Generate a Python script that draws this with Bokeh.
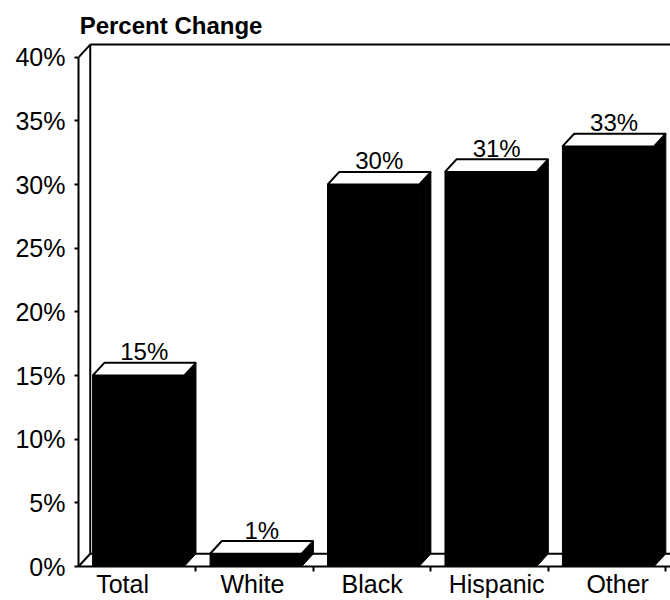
from bokeh.plotting import figure
from bokeh.models import FixedTicker
from bokeh.core.properties import value
from bokeh.embed import file_html
from bokeh.resources import INLINE

# ---- data ----
categories = ["Total", "White", "Black", "Hispanic", "Other"]
pct_change = [15, 1, 30, 31, 33]
y_ticks = [0, 5, 10, 15, 20, 25, 30, 35, 40]
y_tick_labels = ["0%", "5%", "10%", "15%", "20%", "25%", "30%", "35%", "40%"]
title_text = "Percent Change"

# ---- layout constants (not data) ----
DX, DY = 0.10, 1.0          # 3-D depth offset (category units, percent)
FRONT_L, FRONT_R = 0.12, 0.90
X_END = 5.04
Y_TOP = 44.15
WALL_TOP = 40
label_nudge = [-0.125, -0.02, 0.0, 0.06, 0.09]
FONT = "Liberation Sans"

p = figure(width=670, height=600, x_range=(0, X_END), y_range=(0, Y_TOP),
           output_backend="svg", toolbar_location=None,
           min_border_left=78, min_border_right=0, min_border_top=4,
           min_border_bottom=33)
p.grid.visible = False
p.outline_line_color = None
p.background_fill_color = "white"
p.border_fill_color = "white"

# floor + walls
p.patch([0, DX, X_END, X_END], [0, DY, DY, 0], fill_color="white", line_color=None)
p.segment(x0=[0, DX, DX, 0, DX],
          y0=[0, DY, DY, WALL_TOP, WALL_TOP + DY],
          x1=[DX, X_END, DX, DX, X_END],
          y1=[DY, DY, WALL_TOP + DY, WALL_TOP + DY, WALL_TOP + DY],
          line_color="black", line_width=2)

idx = list(range(len(categories)))
# front faces
p.quad(left=[i + FRONT_L for i in idx], right=[i + FRONT_R for i in idx],
       bottom=0, top=pct_change, fill_color="black", line_color="black", line_width=1)
# side faces
side_xs = [[i + FRONT_R, i + FRONT_R + DX, i + FRONT_R + DX, i + FRONT_R] for i in idx]
side_ys = [[0, DY, v + DY, v] for v in pct_change]
p.patches(side_xs, side_ys, fill_color="black", line_color="black", line_width=1)
# top faces
top_xs = [[i + FRONT_L, i + FRONT_L + DX, i + FRONT_R + DX, i + FRONT_R] for i in idx]
top_ys = [[v, v + DY, v + DY, v] for v in pct_change]
p.patches(top_xs, top_ys, fill_color="white", line_color="black", line_width=2)

# value labels
p.text(x=[i + (FRONT_L + FRONT_R + DX) / 2 for i in idx],
       y=[v + DY - 0.2 for v in pct_change],
       text=[f"{v}%" for v in pct_change],
       text_align="center", text_baseline="bottom",
       text_font=value(FONT), text_font_size="24px", text_color="black")

# title
p.text(x=[0.01], y=[41.45], text=[title_text], text_align="left",
       text_baseline="bottom", text_font=value(FONT), text_font_size="24px",
       text_font_style="bold", text_color="black")

# y axis
p.yaxis.ticker = FixedTicker(ticks=y_ticks)
p.yaxis.major_label_overrides = dict(zip(y_ticks, y_tick_labels))
p.yaxis.bounds = (0, WALL_TOP)
p.yaxis.axis_line_width = 2
p.yaxis.axis_line_color = "black"
p.yaxis.major_tick_out = 4
p.yaxis.major_tick_in = 0
p.yaxis.major_tick_line_width = 2
p.yaxis.minor_tick_out = 0
p.yaxis.minor_tick_in = 0
p.yaxis.major_label_standoff = 9
p.yaxis.major_label_text_font = FONT
p.yaxis.major_label_text_font_size = "25px"
p.yaxis.major_label_text_color = "black"

# x axis
x_tick_pos = [i + 0.5 + n for i, n in zip(idx, label_nudge)]
p.xaxis.ticker = FixedTicker(ticks=x_tick_pos, minor_ticks=[1, 2, 3, 4, 5])
p.xaxis.major_label_overrides = dict(zip(x_tick_pos, categories))
p.xaxis.axis_line_width = 2
p.xaxis.axis_line_color = "black"
p.xaxis.major_tick_out = 0
p.xaxis.major_tick_in = 0
p.xaxis.minor_tick_out = 5
p.xaxis.minor_tick_in = 0
p.xaxis.minor_tick_line_width = 2
p.xaxis.major_label_standoff = -2
p.xaxis.major_label_text_font = FONT
p.xaxis.major_label_text_font_size = "25px"
p.xaxis.major_label_text_color = "black"

open("out.html", "w").write(file_html(p, INLINE))
